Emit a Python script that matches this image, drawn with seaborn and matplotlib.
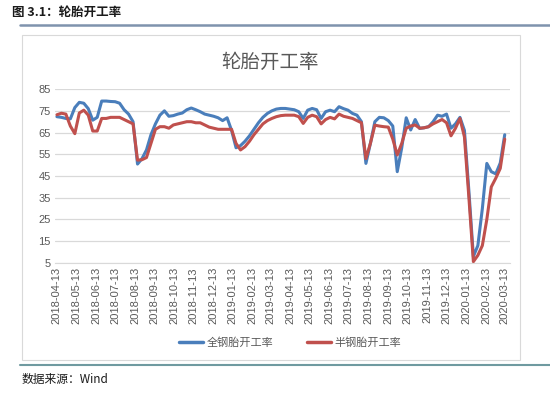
import numpy as np
import pandas as pd
import matplotlib
matplotlib.use("Agg")
import matplotlib.pyplot as plt
import matplotlib.dates as mdates
import seaborn as sns
from matplotlib.lines import Line2D

start_date = "2018-04-13"
n_weeks = 101
series_names = ["全钢胎开工率", "半钢胎开工率"]

all_steel = [
    72.3, 72.0, 71.5, 71.3, 76.5, 78.9, 78.5, 76.0, 70.7, 72.0,
    79.5, 79.5, 79.3, 79.2, 78.5, 75.5, 73.5, 70.0, 50.5, 53.0,
    57.0, 64.0, 69.0, 73.0, 75.0, 72.5, 72.8, 73.5, 74.0, 75.5,
    76.3, 75.5, 74.6, 73.5, 73.0, 72.5, 71.8, 70.5, 71.8, 66.0,
    58.0, 59.0, 61.0, 63.5, 66.5, 69.5, 72.0, 73.8, 75.0, 75.8,
    76.1, 76.1, 75.8, 75.5, 74.6, 71.5, 75.3, 76.1, 75.5, 71.5,
    74.6, 75.3, 74.6, 76.9, 76.0, 75.3, 73.8, 73.0, 70.0, 50.8,
    60.0, 70.0, 72.0, 71.8, 70.5, 68.0, 47.0, 58.0, 71.8, 66.2,
    71.0, 66.9, 67.2, 67.7, 70.0, 73.0, 72.5, 73.5, 67.0, 69.0,
    72.0, 66.0, 38.0, 8.0, 13.0, 30.0, 50.8, 47.0, 46.0, 51.0,
    64.0,
]
semi_steel = [
    73.2, 73.9, 73.5, 68.0, 64.5, 74.0, 75.3, 73.0, 65.7, 65.7,
    71.5, 71.5, 72.0, 72.0, 72.0, 71.0, 70.0, 69.0, 52.3, 52.5,
    53.5, 60.0, 66.5, 67.7, 67.7, 67.0, 68.5, 69.0, 69.5, 70.0,
    70.0, 69.5, 69.5, 68.5, 67.5, 67.0, 66.5, 66.5, 66.5, 66.5,
    60.0, 57.0, 58.5, 61.0, 64.0, 66.5, 69.0, 70.5, 71.5, 72.3,
    72.8, 73.0, 73.0, 73.0, 72.3, 69.2, 72.0, 73.0, 72.3, 69.0,
    71.0, 72.0, 71.3, 73.5, 72.5, 72.0, 71.5, 70.5, 69.5, 53.0,
    60.0, 68.4, 68.0, 67.7, 67.5, 62.0, 54.7, 60.0, 67.0, 68.0,
    68.5, 67.0, 67.2, 67.7, 69.0, 70.0, 71.0, 69.5, 63.5, 67.0,
    71.5, 63.0, 35.0, 5.6, 8.5, 13.0, 25.0, 40.0, 44.0, 48.5,
    62.0,
]
y_ticks = [5, 15, 25, 35, 45, 55, 65, 75, 85]

dates = pd.date_range(start_date, periods=n_weeks, freq="7D")
df = pd.DataFrame({
    "date": np.concatenate([dates, dates]),
    "value": all_steel + semi_steel,
    "series": [series_names[0]] * n_weeks + [series_names[1]] * n_weeks,
})

sns.set_style("white")
plt.rcParams["font.family"] = ["Noto Sans CJK SC", "DejaVu Sans"]

fig = plt.figure(figsize=(5.5, 3.96), dpi=100)
ax = fig.add_axes([0.1, 0.336, 0.827, 0.439])

palette = {series_names[0]: "#4a7ebb", series_names[1]: "#c0504d"}
sns.lineplot(data=df, x="date", y="value", hue="series", palette=palette,
             linewidth=2.2, ax=ax, legend=False)

ax.set_ylim(5, 85)
ax.set_yticks(y_ticks)
ax.set_xlim(dates[0] - pd.Timedelta(days=3), dates[-1] + pd.Timedelta(days=8))
ticks = pd.date_range("2018-04-01", "2020-03-01", freq="MS") + pd.Timedelta(days=12)
ax.set_xticks(ticks)
ax.set_xticklabels([t.strftime("%Y-%m-%d") for t in ticks], rotation=90,
                   fontsize=8, color="#595959", family=["Liberation Sans", "DejaVu Sans"])
for lab in ax.get_yticklabels():
    lab.set_fontsize(8)
    lab.set_color("#595959")
    lab.set_family(["Liberation Sans", "DejaVu Sans"])
ax.tick_params(axis="both", length=0, pad=3)
ax.grid(axis="y", color="#d9d9d9", linewidth=0.9)
ax.set_axisbelow(True)
for s in ["top", "right", "left"]:
    ax.spines[s].set_visible(False)
ax.spines["bottom"].set_color("#d9d9d9")
ax.set_xlabel("")
ax.set_ylabel("")

# chart title
fig.text(270 / 550, 1 - 62 / 396, "轮胎开工率", ha="center", va="center",
         fontsize=14, color="#595959")

# legend
handles = [Line2D([0], [0], color=palette[n], linewidth=2.5) for n in series_names]
fig.legend(handles, series_names, loc="center", bbox_to_anchor=(290 / 550, 1 - 343 / 396),
           ncol=2, frameon=False, fontsize=8, handlelength=2.2, columnspacing=3,
           handletextpad=0.3, labelcolor="#595959")

# chart frame
fig.patches.append(plt.Rectangle((22 / 550, 1 - 360 / 396), 498 / 550, 325 / 396,
                                 transform=fig.transFigure, fill=False,
                                 edgecolor="#d9d9d9", linewidth=0.8))

# header and footer
fig.text(12 / 550, 1 - 12 / 396, "图 3.1：轮胎开工率", ha="left", va="center",
         fontsize=9, color="#1a1a1a", fontweight="bold")
fig.add_artist(Line2D([20 / 550, 1.0], [1 - 25 / 396, 1 - 25 / 396],
                      transform=fig.transFigure, color="#7f93ad", linewidth=1.8))
fig.add_artist(Line2D([20 / 550, 1.0], [1 - 365 / 396, 1 - 365 / 396],
                      transform=fig.transFigure, color="#6f9aa0", linewidth=1.5))
fig.text(22 / 550, 1 - 379 / 396, "数据来源：Wind", ha="left", va="center",
         fontsize=8.5, color="#1a1a1a")

fig.savefig("out.png", dpi=100, facecolor="white")
